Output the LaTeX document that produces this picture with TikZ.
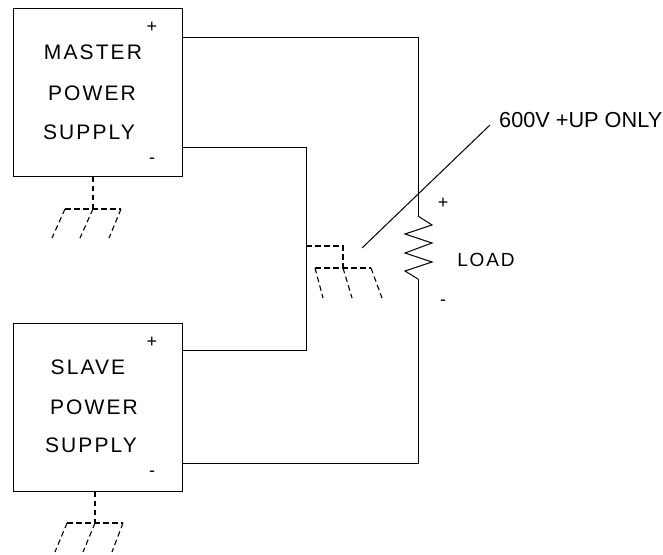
\documentclass[tikz,border=0pt]{standalone}
\usepackage{fontspec}
\setmainfont{Liberation Sans}
\newfontfamily\spaced[LetterSpace=10]{Liberation Sans}
\begin{document}
\begin{tikzpicture}[x=1pt,y=-1pt,
  wire/.style={line width=1pt},
  gnd/.style={line width=1.1pt,dash pattern=on 5.5pt off 3.5pt},
  psbox/.style={draw,line width=1pt,minimum width=169pt,minimum height=168pt,inner sep=0pt},
  boxtxt/.style={inner sep=0pt,font=\spaced\fontsize{21}{21}\selectfont},
  sign/.style={inner sep=0pt,font=\fontsize{18}{18}\selectfont},
  lbl/.style={inner sep=0pt,font=\fontsize{21.7}{21.7}\selectfont}]
\useasboundingbox (0,0) rectangle (663,554);
% boxes
\node[psbox] (master) at (97.5,92) {};
\node[psbox] (slave) at (97.5,407) {};
% texts
\node[boxtxt] (m1) at (93,52.5) {MASTER};
\node[boxtxt] (m2) at (92,93) {POWER};
\node[boxtxt] (m3) at (89,132) {SUPPLY};
\node[boxtxt] (s1) at (88,367.5) {SLAVE};
\node[boxtxt] (s2) at (94,407) {POWER};
\node[boxtxt] (s3) at (91,445) {SUPPLY};
\node[sign] (mp) at (152,27) {+};
\node[sign] (mm) at (152,160.5) {-};
\node[sign] (sp) at (152,342) {+};
\node[sign] (sm) at (152,473.5) {-};
\node[sign] (lp) at (443,203) {+};
\node[sign] (lm) at (443,302.5) {-};
\node[boxtxt,font=\spaced\fontsize{19}{19}\selectfont] (load) at (486,260) {LOAD};
\node[lbl,anchor=west] (note) at (499,120.5) {600V +UP ONLY};
% terminals
\coordinate (mplus) at (182,37);
\coordinate (mminus) at (182,147);
\coordinate (splus) at (182,350);
\coordinate (sminus) at (182,463);
\coordinate (rt) at (418,216);
\coordinate (rb) at (418,279);
\coordinate (jn) at (306,246);
\coordinate (ptr) at (362,248);
% wires
\draw[wire] (mplus) -- (418,37) -- (rt);
\draw[wire] (rt) -- (432,225) -- (405,234) -- (432,243) -- (405,253) -- (432,262) -- (405,271) -- (rb);
\draw[wire] (rb) -- (418,463) -- (sminus);
\draw[wire] (mminus) -- (306,147) -- (306,350) -- (splus);
\draw[wire] (ptr) -- (490,125);
% center ground
\draw[gnd] (jn) -- (343,246) -- (343,268);
\draw[gnd] (315,268) -- (371,268);
\draw[gnd] (315,268) -- (323,298);
\draw[gnd] (343,268) -- (352,298);
\draw[gnd] (371,268) -- (382,298);
% master ground
\draw[gnd] (master.south) ++(-4.5,0) coordinate (mg) -- (93,209);
\draw[gnd] (65,209) -- (121,209);
\draw[gnd] (65,209) -- (52,238);
\draw[gnd] (93,209) -- (80,238);
\draw[gnd] (121,209) -- (109,238);
% slave ground
\draw[gnd] (slave.south) ++(-2.5,0) coordinate (sg) -- (95,523);
\draw[gnd] (67,523) -- (123,523);
\draw[gnd] (67,523) -- (55,552);
\draw[gnd] (95,523) -- (83,552);
\draw[gnd] (123,523) -- (112,552);
\end{tikzpicture}
\end{document}
